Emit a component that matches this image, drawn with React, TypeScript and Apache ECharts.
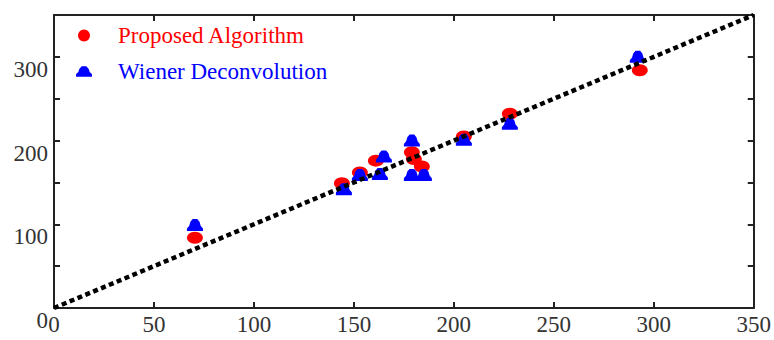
import React, { useEffect, useRef } from "react";
import * as echarts from "echarts";

const proposed: [number, number][] = [
  [70.5, 84], [144, 149], [153, 162], [161, 176], [179, 186], [180, 178],
  [184, 169], [205, 205], [228, 232], [293, 284],
];
const wiener: [number, number][] = [
  [70.5, 99], [145, 142], [153, 159], [163, 160], [165, 181], [179, 200],
  [179, 159], [185, 159], [205, 201], [228, 220], [292, 300],
];
const ideal: [number, number][] = [[0, 0], [350, 350]];
const yLabels = ["0", "100", "200", "300"];
const seriesNames = ["Proposed Algorithm", "Wiener Deconvolution"];

const redSym = "circle";
const blueSym = "path://M0,10 L0,8 L2,6 L3,3 L5,1 L9,1 L11,3 L12,6 L14,8 L14,10 Z";
const FONT = "Liberation Serif";

export default function App() {
  const ref = useRef<HTMLDivElement>(null);
  useEffect(() => {
    if (!ref.current) return;
    const chart = echarts.init(ref.current, null, { renderer: "svg" });
    const axisLine = { show: true, onZero: false, lineStyle: { color: "#222", width: 2 } };
    const tick = { inside: true, length: 6, lineStyle: { color: "#222", width: 2 } };
    chart.setOption({
      animation: false,
      grid: { left: 54, right: 20, top: 15, bottom: 32 },
      legend: {
        orient: "vertical",
        left: 71,
        top: 19,
        itemGap: 13,
        itemWidth: 16,
        itemHeight: 12,
        data: [
          { name: seriesNames[0], textStyle: { color: "#ff0000" } },
          { name: seriesNames[1], textStyle: { color: "#0000ff" } },
        ],
        textStyle: { fontFamily: FONT, fontSize: 23, padding: [0, 0, 0, 21] },
      },
      xAxis: [
        {
          type: "value", min: 0, max: 350, interval: 50, position: "bottom",
          axisLine, splitLine: { show: false }, axisTick: tick,
          axisLabel: { fontFamily: FONT, fontSize: 23, color: "#333", margin: 5 },
        },
        {
          type: "value", min: 0, max: 350, interval: 50, position: "top",
          axisLine, splitLine: { show: false }, axisTick: tick,
          axisLabel: { show: false },
        },
      ],
      yAxis: [
        {
          type: "value", min: 0, max: 350, interval: 50, position: "left",
          axisLine, splitLine: { show: false }, axisTick: tick,
          axisLabel: {
            fontFamily: FONT, fontSize: 23, color: "#333", margin: 6,
            verticalAlign: "top", padding: [1, 0, 0, 0],
            formatter: (v: number) => (yLabels.includes(String(v)) ? String(v) : ""),
          },
        },
        {
          type: "value", min: 0, max: 350, interval: 50, position: "right",
          axisLine, splitLine: { show: false }, axisTick: tick,
          axisLabel: { show: false },
        },
      ],
      series: [
        {
          name: seriesNames[0], type: "scatter", data: proposed,
          symbol: redSym, symbolSize: [16, 12],
          itemStyle: { color: "#ff0000", opacity: 1 }, z: 2,
        },
        {
          name: seriesNames[1], type: "scatter", data: wiener,
          symbol: blueSym, symbolSize: [16, 12],
          itemStyle: { color: "#0000ff", opacity: 1 }, z: 3,
        },
        {
          name: "ideal", type: "line", data: ideal, symbol: "none", z: 4,
          lineStyle: { color: "#000", width: 4.5, type: [5, 3.5] },
        },
      ],
    });
    return () => chart.dispose();
  }, []);
  return <div ref={ref} style={{ width: 774, height: 340, position: "absolute", left: 0, top: 0 }} />;
}
